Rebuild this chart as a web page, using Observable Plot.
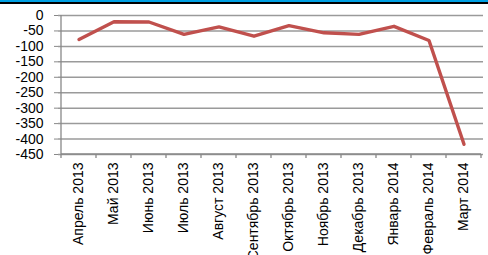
<!DOCTYPE html>
<html><head><meta charset="utf-8">
<script src="https://cdn.jsdelivr.net/npm/d3@7"></script>
<script src="https://cdn.jsdelivr.net/npm/@observablehq/plot@0.6"></script>
<style>
html,body{margin:0;padding:0;background:#fff;}
#bar1{height:2px;background:#00a0e3;}
#bar2{height:2px;background:#000;}
</style></head>
<body>
<div id="bar1"></div><div id="bar2"></div>
<div id="chart"></div>
<script>
const months = ["Апрель 2013","Май 2013","Июнь 2013","Июль 2013","Август 2013","Сентябрь 2013","Октябрь 2013","Ноябрь 2013","Декабрь 2013","Январь 2014","Февраль 2014","Март 2014"];
const values = [-78, -20, -21, -61, -37, -67, -33, -56, -61, -35, -81, -417];
const yTicks = [0,-50,-100,-150,-200,-250,-300,-350,-400,-450];

const data = months.map((m,i)=>({month:m, value:values[i]}));
const font = "'Liberation Sans', Arial, sans-serif";

const boundaryTicks = (index, scales, vals, dims) => {
  const x = scales.x, bw = x.bandwidth ? x.bandwidth() : 0;
  const y0 = dims.height - dims.marginBottom;
  const g = d3.create("svg:g").attr("stroke","#888").attr("stroke-width",1.3);
  const edges = months.map(m => x(m) - (x.bandwidth ? 0 : bw/2));
  edges.push(edges[edges.length-1] + bw);
  for (const e of edges) g.append("line").attr("x1",e).attr("x2",e).attr("y1",y0).attr("y2",y0+4);
  g.append("line").attr("x1",edges[0]).attr("x2",edges[edges.length-1]).attr("y1",y0).attr("y2",y0);
  g.append("line").attr("x1",edges[0]).attr("x2",edges[0]).attr("y1",dims.marginTop).attr("y2",y0);
  return g.node();
};

const plot = Plot.plot({
  width: 488,
  height: 251,
  marginLeft: 58,
  marginRight: 5,
  marginTop: 11,
  marginBottom: 101,
  style: {fontFamily: font, fontSize: "13px", color: "#000", background: "#fff"},
  x: {type: "band", domain: months, padding: 0},
  y: {domain: [-450, 0]},
  marks: [
    Plot.ruleY(yTicks, {stroke: "#9a9a9a", strokeWidth: 1.5, strokeOpacity: 1}),
    Plot.axisY({ticks: yTicks, tickSize: 4, tickPadding: 11, stroke: "#888", fontSize: 14, label: null, tickFormat: d => String(d).replace("−","-")}),
    Plot.axisX({tickSize: 0, tickPadding: 8, tickRotate: -90, fontSize: 14, label: null}),
    boundaryTicks,
    Plot.line(data, {x: "month", y: "value", stroke: "#c0504d", strokeWidth: 3.4, strokeLinejoin: "round"})
  ]
});
document.getElementById("chart").appendChild(plot);
</script>
</body></html>
